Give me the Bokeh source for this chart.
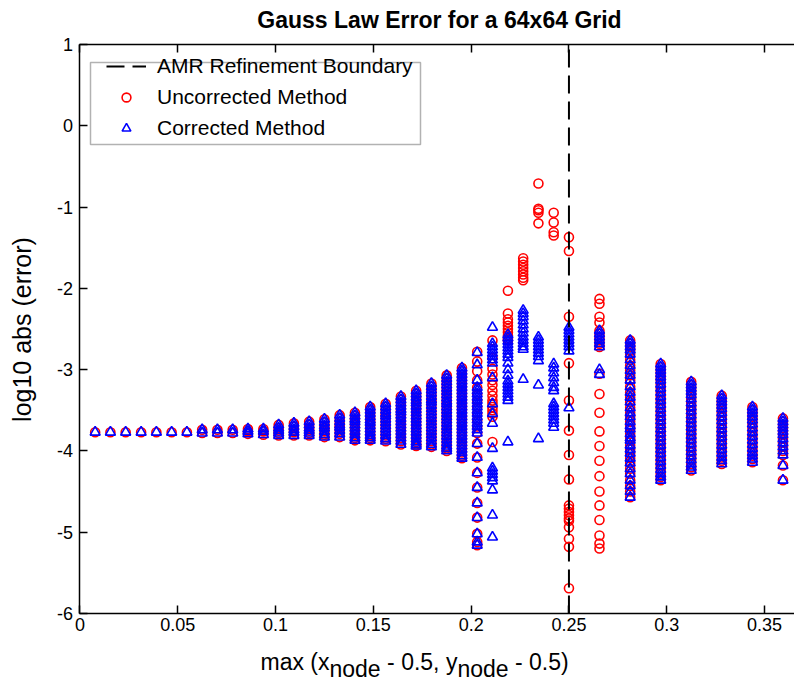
import math
from bokeh.plotting import figure
from bokeh.models import (Range1d, LinearAxis, Legend, LegendItem, Label,
                          BoxAnnotation, FixedTicker, CustomLabelingPolicy)
from bokeh.embed import file_html
from bokeh.resources import INLINE

# ---------------- data ----------------
x_cols = [0.0078, 0.0156, 0.0234, 0.0313, 0.0391, 0.0469, 0.0547, 0.0625,
          0.0703, 0.0781, 0.0859, 0.0938, 0.1016, 0.1094, 0.1172, 0.1250,
          0.1328, 0.1406, 0.1484, 0.1563, 0.1641, 0.1719, 0.1797, 0.1875,
          0.1953, 0.2031, 0.2109, 0.2188, 0.2266, 0.2344, 0.2422, 0.2500,
          0.2656, 0.2813, 0.2969, 0.3125, 0.3281, 0.3438, 0.3594]

# fine-grid columns where both methods give the same readings
flat_cols = [
    [-3.77], [-3.77], [-3.77], [-3.77], [-3.77], [-3.77], [-3.77],
    [-3.74, -3.78], [-3.74, -3.78], [-3.74, -3.78],
    [-3.73, -3.76, -3.79],
    [-3.73, -3.76, -3.80],
    [-3.68, -3.72, -3.75, -3.78, -3.81],
    [-3.66, -3.70, -3.74, -3.77, -3.81],
    [-3.64, -3.68, -3.72, -3.75, -3.78, -3.81],
    [-3.61, -3.65, -3.69, -3.72, -3.76, -3.80, -3.83],
    [-3.56, -3.60, -3.64, -3.68, -3.71, -3.75, -3.79, -3.83],
    [-3.53, -3.57, -3.61, -3.64, -3.68, -3.72, -3.76, -3.80, -3.84, -3.87],
    [-3.46, -3.50, -3.54, -3.58, -3.62, -3.65, -3.69, -3.73, -3.77, -3.81,
     -3.84, -3.87],
    [-3.42, -3.46, -3.50, -3.54, -3.57, -3.61, -3.65, -3.69, -3.73, -3.77,
     -3.81, -3.85, -3.88],
    [-3.33, -3.37, -3.41, -3.45, -3.49, -3.52, -3.56, -3.60, -3.64, -3.68,
     -3.72, -3.76, -3.80, -3.84, -3.88, -3.92],
    [-3.26, -3.30, -3.34, -3.38, -3.41, -3.45, -3.49, -3.53, -3.57, -3.61,
     -3.65, -3.69, -3.73, -3.77, -3.81, -3.85, -3.89, -3.92, -3.94],
    [-3.17, -3.21, -3.25, -3.29, -3.33, -3.37, -3.40, -3.44, -3.48, -3.52,
     -3.56, -3.60, -3.64, -3.68, -3.72, -3.76, -3.80, -3.84, -3.88, -3.92,
     -3.95],
    [-3.07, -3.11, -3.15, -3.19, -3.23, -3.27, -3.31, -3.35, -3.39, -3.42,
     -3.46, -3.50, -3.54, -3.58, -3.62, -3.66, -3.70, -3.74, -3.78, -3.82,
     -3.86, -3.90, -3.94, -3.97, -4.00],
    [-2.98, -3.02, -3.06, -3.10, -3.14, -3.18, -3.22, -3.26, -3.30, -3.34,
     -3.38, -3.42, -3.46, -3.50, -3.54, -3.58, -3.62, -3.66, -3.70, -3.74,
     -3.78, -3.82, -3.86, -3.90, -3.94, -3.98, -4.02, -4.06, -4.09],
]

# columns around the refinement boundary (0.2031 ... 0.2656), per method
unc_near = [
    [-2.78, -2.90, -3.02, -3.13, -3.22, -3.30, -3.38, -3.46, -3.54, -3.62,
     -3.70, -3.78, -3.91, -4.08, -4.27, -4.45, -4.64, -4.82, -5.02, -5.12, -5.16],
    [-2.64, -2.86, -2.99, -3.06, -3.13, -3.19, -3.26, -3.32, -3.38, -3.42,
     -3.46, -3.50, -3.54, -3.58, -3.89],
    [-2.03, -2.31, -2.38, -2.42, -2.46, -2.50, -2.54, -2.58, -2.62, -2.64],
    [-1.63, -1.67, -1.71, -1.75, -1.79, -1.83, -1.87, -1.90],
    [-0.71, -1.02, -1.04, -1.07, -1.20],
    [-1.07, -1.19, -1.31, -1.35],
    [-1.37, -1.54, -2.35, -2.92, -3.38, -3.75, -4.05, -4.35, -4.67, -4.71,
     -4.75, -4.79, -4.83, -4.86, -4.94, -5.08, -5.18, -5.69],
    [-2.13, -2.19, -2.35, -2.42, -2.52, -2.56, -2.60, -2.64, -2.68, -2.72,
     -3.05, -3.30, -3.53, -3.76, -3.94, -4.12, -4.31, -4.50, -4.67, -4.85,
     -5.04, -5.14, -5.20],
]
cor_near = [
    [-2.79, -2.94, -3.13, -3.22, -3.26, -3.30, -3.34, -3.38, -3.42, -3.46,
     -3.50, -3.54, -3.58, -3.62, -3.66, -3.70, -3.74, -3.78, -3.91, -4.08,
     -4.27, -4.45, -4.64, -4.82, -5.02, -5.12, -5.16],
    [-2.48, -2.68, -2.72, -2.76, -2.80, -2.84, -2.88, -2.92, -3.10, -3.42,
     -3.54, -3.66, -3.97, -4.21, -4.25, -4.29, -4.33, -4.37, -4.48, -4.79, -5.06],
    [-2.57, -2.61, -2.65, -2.69, -2.73, -2.77, -2.81, -2.85, -2.92, -3.00,
     -3.07, -3.14, -3.18, -3.22, -3.26, -3.30, -3.34, -3.38, -3.89],
    [-2.27, -2.31, -2.35, -2.40, -2.45, -2.50, -2.55, -2.60, -2.64, -2.68,
     -2.72, -2.75, -3.12],
    [-2.60, -2.64, -2.68, -2.72, -2.76, -2.80, -2.84, -2.89, -3.19, -3.85],
    [-2.93, -2.98, -3.04, -3.10, -3.16, -3.22, -3.26, -3.42, -3.46, -3.50,
     -3.54, -3.58, -3.62, -3.66, -3.71],
    [-2.48, -2.52, -2.56, -2.60, -2.64, -2.68, -2.72, -2.77, -3.47],
    [-2.52, -2.56, -2.60, -2.64, -2.68, -2.72, -3.00, -3.06],
]

# coarse-grid columns (0.2813 ... 0.3594), both methods coincide
outer_cols = [
    [-2.64, -2.68, -2.72, -2.76, -2.81, -2.88, -2.95, -3.01, -3.07, -3.13,
     -3.21, -3.28, -3.34, -3.40, -3.47, -3.53, -3.58, -3.64, -3.69, -3.73,
     -3.79, -3.84, -3.87, -3.93, -3.98, -4.03, -4.09, -4.15, -4.22, -4.28,
     -4.36, -4.43, -4.50, -4.57],
    [-2.93, -2.97, -3.01, -3.05, -3.09, -3.13, -3.18, -3.23, -3.28, -3.33,
     -3.38, -3.43, -3.48, -3.53, -3.58, -3.63, -3.68, -3.73, -3.78, -3.83,
     -3.88, -3.93, -3.98, -4.03, -4.08, -4.13, -4.18, -4.23, -4.28, -4.32, -4.36],
    [-3.15, -3.19, -3.23, -3.27, -3.31, -3.36, -3.41, -3.46, -3.51, -3.56,
     -3.61, -3.66, -3.71, -3.76, -3.81, -3.86, -3.91, -3.96, -4.01, -4.06,
     -4.11, -4.16, -4.20, -4.24],
    [-3.32, -3.36, -3.40, -3.44, -3.48, -3.53, -3.58, -3.63, -3.68, -3.73,
     -3.78, -3.83, -3.88, -3.93, -3.98, -4.03, -4.08, -4.12, -4.16],
    [-3.46, -3.50, -3.54, -3.58, -3.62, -3.67, -3.72, -3.77, -3.82, -3.87,
     -3.92, -3.97, -4.02, -4.06, -4.10, -4.14],
    [-3.60, -3.64, -3.68, -3.72, -3.76, -3.80, -3.85, -3.90, -3.95, -4.00,
     -4.05, -4.18, -4.36],
]

boundary_x = 0.25
x_limits = [0, 0.3653]
y_limits = [-6, 1]
x_ticks = [0, 0.05, 0.1, 0.15, 0.2, 0.25, 0.3, 0.35]
x_tick_labels = ["0", "0.05", "0.1", "0.15", "0.2", "0.25", "0.3", "0.35"]
y_ticks = [-6, -5, -4, -3, -2, -1, 0, 1]
y_tick_labels = ["-6", "-5", "-4", "-3", "-2", "-1", "0", "1"]

labels = ["AMR Refinement Boundary", "Uncorrected Method", "Corrected Method"]
title_text = "Gauss Law Error for a 64x64 Grid"
ylabel_text = "log10 abs (error)"
# x label: (text, is_subscript)
xlabel_parts = [("max (x", False), ("node", True), ("- 0.5, y", False),
                ("node", True), ("- 0.5)", False)]

# ---------------- layout constants (pixels) ----------------
W, H = 794, 683
AX_L, AX_T, AX_B = 79.4, 44.0, 613.0          # axes box edges on the canvas
px_per_x = (W - AX_L) / (x_limits[1] - x_limits[0])
px_per_y = (AX_B - AX_T) / (y_limits[1] - y_limits[0])
FONT = "Liberation Sans"

# ---------------- assemble data ----------------
unc_cols = flat_cols + unc_near + outer_cols
cor_cols = flat_cols + cor_near + outer_cols


def flatten(cols):
    xs, ys = [], []
    for xv, vals in zip(x_cols, cols):
        for v in vals:
            xs.append(xv)
            ys.append(v)
    return xs, ys


ux, uy = flatten(unc_cols)
cx, cy = flatten(cor_cols)

# the frame fills the canvas; the axes are pinned at the box edges
xr = Range1d(x_limits[0] - AX_L / px_per_x, x_limits[1])
yr = Range1d(y_limits[0] - (H - AX_B) / px_per_y,
             y_limits[1] + AX_T / px_per_y)

p = figure(width=W, height=H, output_backend="svg", toolbar_location=None,
           x_range=xr, y_range=yr, title=None,
           min_border_left=0, min_border_right=0, min_border_top=0,
           min_border_bottom=0)
p.outline_line_color = None
p.xgrid.visible = False
p.ygrid.visible = False
p.background_fill_color = "white"
p.border_fill_color = "white"

xt = FixedTicker(ticks=x_ticks, minor_ticks=[])
xa = p.xaxis[0]
xa.ticker = xt
xa.major_label_overrides = {t: s for t, s in zip(x_ticks, x_tick_labels)}
xa.fixed_location = y_limits[0]
xa.bounds = (x_limits[0], x_limits[1])
xa.major_label_standoff = 4

ya = p.yaxis[0]
ya.ticker = FixedTicker(ticks=y_ticks, minor_ticks=[])
ya.major_label_overrides = {t: s for t, s in zip(y_ticks, y_tick_labels)}
ya.fixed_location = x_limits[0]
ya.bounds = (y_limits[0], y_limits[1])
ya.major_label_standoff = 7

top = LinearAxis(ticker=xt, fixed_location=y_limits[1],
                 bounds=(x_limits[0], x_limits[1]),
                 major_label_policy=CustomLabelingPolicy(code="return []"))
p.add_layout(top, "above")

for ax in (xa, ya, top):
    ax.axis_line_color = "black"
    ax.axis_line_width = 1.5
    ax.major_tick_line_color = "black"
    ax.major_tick_line_width = 1.5
    ax.major_tick_in = 8
    ax.major_tick_out = 0
    ax.minor_tick_line_color = None
    ax.major_label_text_font = FONT
    ax.major_label_text_color = "black"
    ax.major_label_text_font_size = "18px"

# markers, then the boundary line on top
r_unc = p.scatter(ux, uy, marker="circle", size=9, fill_color=None,
                  line_color="#ff0000", line_width=1.6)
r_cor = p.scatter(cx, cy, marker="triangle", size=10, fill_color=None,
                  line_color="#0000ff", line_width=1.6)
r_line = p.line([boundary_x, boundary_x], y_limits, line_color="black",
                line_width=2, line_dash="18 8")

legend = Legend(items=[LegendItem(label=labels[0], renderers=[r_line]),
                       LegendItem(label=labels[1], renderers=[r_unc]),
                       LegendItem(label=labels[2], renderers=[r_cor])],
                location=(106, H - 140), padding=1, margin=0, spacing=7,
                glyph_width=40, glyph_height=22, label_height=22,
                label_standoff=11, label_text_font=FONT,
                label_text_font_size="21px", label_text_color="black",
                border_line_color=None, background_fill_alpha=0)
p.add_layout(legend, "center")

box = BoxAnnotation(left=90, right=420, top=H - 62, bottom=H - 144,
                    left_units="screen", right_units="screen",
                    top_units="screen", bottom_units="screen",
                    fill_color=None, line_color="black", line_width=1.5)
p.add_layout(box)

# title
p.add_layout(Label(x=439, y=H - 19, x_units="screen", y_units="screen",
                   text=title_text, text_font=FONT, text_font_size="23px",
                   text_font_style="bold", text_color="black",
                   text_align="center", text_baseline="alphabetic"))

# y label (rotated)
p.add_layout(Label(x=21, y=H - 329, x_units="screen", y_units="screen",
                   text=ylabel_text, angle=math.pi / 2, text_font=FONT,
                   text_font_size="25px", text_color="black",
                   text_align="center", text_baseline="middle"))

# x label with subscripts, pieces laid out left to right
starts = [260.0, 329.0, 386.6, 456.9, 514.5]
for (txt, sub), sx in zip(xlabel_parts, starts):
    p.add_layout(Label(x=sx, y=(15 if sub else 22), x_units="screen",
                       y_units="screen", text=txt, text_font=FONT,
                       text_font_size="23px", text_color="black",
                       text_baseline="alphabetic"))

open("out.html", "w").write(file_html(p, INLINE))
